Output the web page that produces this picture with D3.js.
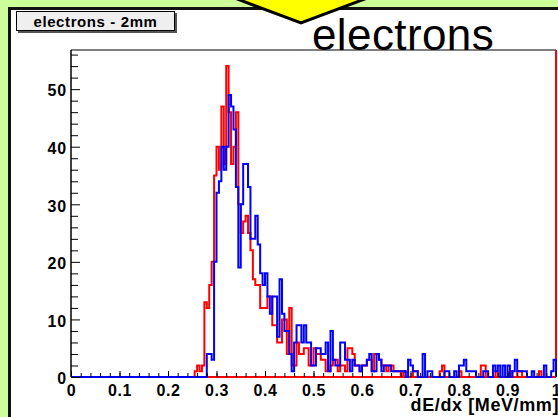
<!DOCTYPE html>
<html>
<head>
<meta charset="utf-8">
<script src="https://cdn.jsdelivr.net/npm/d3@7"></script>
<style>
body { margin: 0; background: #ccff99; }
text { font-family: "Liberation Sans", Arial, Helvetica, sans-serif; }
</style>
</head>
<body>
<div id="chart"></div>
<script>
// histogram binning: 200 bins from 0 to 1
var binLow = 0, binWidth = 0.005;

// red histogram (counts per bin)
var redCounts = [
  0,0,0,0,0,0,0,0,0,0,0,0,0,0,0,0,0,0,0,0,
  0,0,0,0,0,0,0,0,0,0,0,0,0,0,0,0,0,0,0,0,
  0,0,0,0,0,0,0,0,0,0,0,1,2,1,2,13,12,16,20,35,
  40,36,47,37,54,46,37,40,46,30,25,27,28,25,22,17,16,16,12,12,
  12,14,14,9,9,6,6,10,10,4,12,2,2,6,4,4,5,5,2,2,
  5,4,4,3,3,1,1,2,3,3,1,2,2,1,5,5,4,2,2,1,
  2,2,3,3,1,4,4,3,2,2,1,2,2,1,1,1,0,1,0,0,
  0,1,1,0,0,0,0,0,0,0,0,0,1,2,0,0,0,0,0,0,
  1,0,0,0,0,0,0,0,0,2,2,0,0,0,0,1,0,0,0,0,
  0,1,0,0,1,1,0,0,0,0,0,0,0,1,0,0,0,0,0,0
];

// blue histogram (counts per bin)
var blueCounts = [
  0,0,0,0,0,0,0,0,0,0,0,0,0,0,0,0,0,0,0,0,
  0,0,0,0,0,0,0,0,0,0,0,0,0,0,0,0,0,0,0,0,
  0,0,0,0,0,0,0,0,0,0,0,0,0,0,0,0,4,4,3,20,
  32,34,40,36,40,49,47,43,33,19,30,37,37,33,24,24,28,23,18,16,
  18,14,11,14,14,7,17,11,8,8,4,1,6,9,9,6,9,6,6,2,
  2,5,5,4,4,6,1,8,3,2,2,6,6,3,3,1,3,2,2,1,
  2,2,3,4,1,1,4,3,1,2,2,2,1,1,1,1,1,1,0,3,
  2,1,1,0,0,4,0,1,1,0,0,0,0,0,1,1,0,0,1,0,
  2,2,3,1,1,1,1,0,0,0,1,1,0,0,2,1,2,0,2,0,
  2,0,1,3,1,1,1,1,0,0,1,0,0,0,0,2,0,0,1,3
];

var xTickValues = [0, 0.1, 0.2, 0.3, 0.4, 0.5, 0.6, 0.7, 0.8, 0.9, 1];
var yTickValues = [0, 10, 20, 30, 40, 50];
var yMax = 56.8;

var titleText = "electrons - 2mm";
var bigLabel = "electrons";
var xTitle = "dE/dx [MeV/mm]";

var width = 558, height = 417;
var plot = {left: 71, right: 556, top: 50, bottom: 377};

var svg = d3.select("#chart").append("svg")
    .attr("width", width)
    .attr("height", height);

// green page background
svg.append("rect")
    .attr("width", width).attr("height", height)
    .attr("fill", "#ccff99");

// white canvas with dark border
svg.append("rect")
    .attr("x", 9.5).attr("y", 8.5)
    .attr("width", 700).attr("height", 600)
    .attr("fill", "#ffffff")
    .attr("stroke", "#111")
    .attr("stroke-width", 3);

var x = d3.scaleLinear().domain([0, 1]).range([plot.left, plot.right]);
var y = d3.scaleLinear().domain([0, yMax]).range([plot.bottom, plot.top]);

// frame: top and left black, bottom and right red
svg.append("line")
    .attr("x1", plot.left).attr("x2", plot.right)
    .attr("y1", plot.top).attr("y2", plot.top)
    .attr("stroke", "#000").attr("stroke-width", 1.2);
svg.append("line")
    .attr("x1", plot.right).attr("x2", plot.right)
    .attr("y1", plot.top).attr("y2", plot.bottom)
    .attr("stroke", "#ff0000").attr("stroke-width", 2);
svg.append("line")
    .attr("x1", plot.left).attr("x2", plot.right)
    .attr("y1", plot.bottom).attr("y2", plot.bottom)
    .attr("stroke", "#ff0000").attr("stroke-width", 2);

function stepPoints(counts) {
  var pts = [[binLow, 0]];
  counts.forEach(function(c, i) {
    var lo = binLow + i * binWidth;
    pts.push([lo, c], [lo + binWidth, c]);
  });
  pts.push([binLow + counts.length * binWidth, 0]);
  return pts;
}

var line = d3.line()
    .x(function(d) { return x(d[0]); })
    .y(function(d) { return y(d[1]); });

svg.append("path")
    .datum(stepPoints(redCounts))
    .attr("fill", "none")
    .attr("stroke", "#ff0000")
    .attr("stroke-width", 2)
    .attr("d", line);

svg.append("path")
    .datum(stepPoints(blueCounts))
    .attr("fill", "none")
    .attr("stroke", "#0000ff")
    .attr("stroke-width", 2)
    .attr("d", line);

// left axis line
svg.append("line")
    .attr("x1", plot.left).attr("x2", plot.left)
    .attr("y1", plot.top).attr("y2", plot.bottom)
    .attr("stroke", "#000").attr("stroke-width", 1.5);

// y axis: major + minor ticks pointing inward
var yMinor = d3.range(0, yMax, 2).filter(function(v) { return v % 10 != 0; });
var gyMinor = svg.append("g")
    .attr("transform", "translate(" + plot.left + ",0)")
    .call(d3.axisLeft(y).tickValues(yMinor).tickSizeInner(-7).tickSizeOuter(0).tickFormat(""));
gyMinor.select(".domain").remove();

var gy = svg.append("g")
    .attr("transform", "translate(" + plot.left + ",0)")
    .call(d3.axisLeft(y).tickValues(yTickValues).tickSizeInner(-9).tickSizeOuter(0).tickPadding(4));
gy.select(".domain").remove();
gy.selectAll("text")
    .attr("font-family", "'Liberation Sans', Arial, sans-serif")
    .attr("font-size", 16)
    .attr("font-weight", "bold")
    .attr("letter-spacing", 0.8)
    .attr("dy", "0.42em")
    .attr("fill", "#000");

// x axis
var xMinor = d3.range(0, 1.001, 0.02);
var gxMinor = svg.append("g")
    .attr("transform", "translate(0," + plot.bottom + ")")
    .call(d3.axisBottom(x).tickValues(xMinor).tickSizeInner(-4).tickSizeOuter(0).tickFormat(""));
gxMinor.select(".domain").remove();

var gx = svg.append("g")
    .attr("transform", "translate(0," + plot.bottom + ")")
    .call(d3.axisBottom(x).tickValues(xTickValues).tickSizeInner(-6).tickSizeOuter(0)
      .tickPadding(8).tickFormat(d3.format("")));
gx.select(".domain").remove();
gx.selectAll("text")
    .attr("font-family", "'Liberation Sans', Arial, sans-serif")
    .attr("font-size", 16)
    .attr("font-weight", "bold")
    .attr("letter-spacing", 0.6)
    .attr("fill", "#000");

svg.selectAll(".tick line").attr("stroke", "#000");

// x title
svg.append("text")
    .attr("x", 559).attr("y", 411)
    .attr("text-anchor", "end")
    .attr("font-size", 18)
    .attr("font-weight", "bold")
    .attr("letter-spacing", 0.6)
    .text(xTitle);

// title box with shadow
svg.append("rect")
    .attr("x", 18).attr("y", 13)
    .attr("width", 159).attr("height", 20)
    .attr("fill", "#555");
svg.append("rect")
    .attr("x", 16.5).attr("y", 11.5)
    .attr("width", 158).attr("height", 19)
    .attr("fill", "#efefef")
    .attr("stroke", "#000")
    .attr("stroke-width", 1);
svg.append("text")
    .attr("x", 95.5).attr("y", 26.5)
    .attr("text-anchor", "middle")
    .attr("font-size", 15)
    .attr("font-weight", "bold")
    .attr("letter-spacing", 0.6)
    .text(titleText);

// yellow arrow from the slide above
svg.append("polygon")
    .attr("points", [[232, -3], [370, -3], [301, 23]].map(function(p) { return p.join(","); }).join(" "))
    .attr("fill", "#ffff00")
    .attr("stroke", "#000")
    .attr("stroke-width", 3)
    .attr("stroke-linejoin", "miter");

svg.append("text")
    .attr("x", 312).attr("y", 50)
    .attr("font-size", 44)
    .attr("letter-spacing", 0.4)
    .attr("fill", "#000")
    .text(bigLabel);
</script>
</body>
</html>
